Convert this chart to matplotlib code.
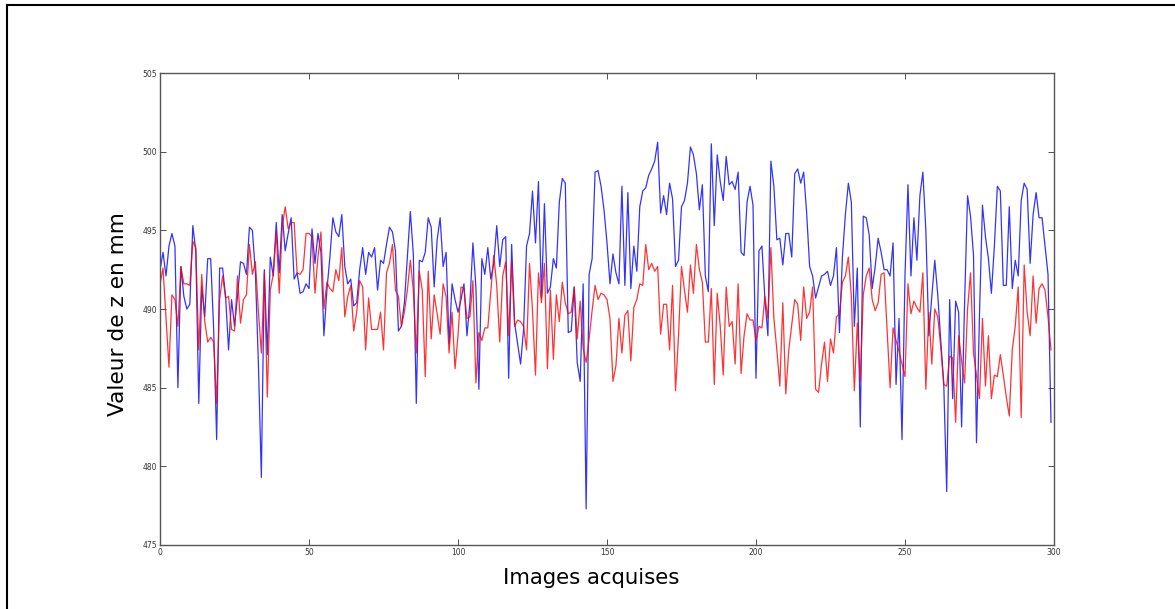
import matplotlib
matplotlib.use("Agg")
import matplotlib.pyplot as plt
from matplotlib.lines import Line2D
import numpy as np

# z values (mm), images 0..299
z_bleu = np.array(
    # 0..50
    [492.5, 493.6, 492.1, 494.0, 494.8, 494.0, 485.0, 492.7, 490.8, 490.0,
     490.3, 495.3, 493.7, 484.0, 491.4, 489.5, 493.2, 493.2, 488.7, 481.7,
     492.6, 492.6, 490.8, 487.4, 490.6, 488.9, 490.8, 493.0, 492.9, 492.2,
     495.2, 495.0, 492.3, 486.6, 479.3, 492.5, 487.1, 493.3, 492.1, 495.5,
     492.3, 496.0, 493.7, 494.8, 495.8, 491.9, 492.3, 491.0, 491.1, 491.6,
     491.3]
    # 51..100
    + [495.1, 492.9, 494.8, 493.6, 488.3, 491.2, 493.3, 495.8, 494.9, 494.6,
       496.0, 492.7, 491.6, 491.9, 490.2, 490.4, 492.5, 493.9, 492.2, 493.6,
       493.3, 493.9, 491.2, 493.1, 492.9, 494.1, 495.2, 494.9, 493.7, 488.6,
       488.9, 490.4, 493.3, 496.2, 493.5, 484.0, 493.1, 493.0, 493.6, 495.8,
       495.2, 491.4, 494.4, 495.8, 492.7, 493.6, 487.8, 491.6, 490.6, 489.8]
    # 101..150
    + [490.6, 491.6, 488.3, 490.4, 494.2, 491.4, 484.9, 493.2, 492.2, 493.9,
       491.9, 492.9, 495.3, 492.7, 494.4, 494.6, 485.6, 494.1, 489.1, 487.8,
       486.5, 488.7, 494.0, 494.8, 497.5, 494.2, 498.1, 490.7, 496.7, 491.0,
       491.4, 493.2, 492.6, 496.8, 498.3, 498.0, 488.5, 488.6, 491.4, 486.6,
       485.4, 491.6, 477.3, 492.2, 493.2, 498.7, 498.8, 497.8, 496.3, 494.2]
    # 151..199
    + [491.6, 493.5, 492.3, 491.6, 497.8, 491.5, 497.4, 491.3, 494.0, 492.4,
       496.5, 497.5, 497.7, 498.5, 498.9, 499.4, 500.6, 496.1, 497.2, 496.0,
       498.0, 497.0, 492.7, 493.1, 496.5, 496.9, 498.0, 500.3, 499.8, 498.6,
       496.3, 497.9, 492.1, 491.1, 500.5, 495.3, 499.8, 498.1, 496.9, 499.7,
       497.9, 498.1, 497.6, 498.7, 493.6, 493.4, 496.8, 497.8, 496.6]
    # 200..247
    + [485.6, 493.7, 494.0, 490.6, 488.3, 499.4, 497.8, 494.4, 494.5, 492.8,
       494.8, 494.8, 493.3, 498.6, 498.9, 498.0, 498.7, 496.1, 492.7, 492.1,
       490.7, 491.4, 492.1, 492.2, 492.4, 491.5, 492.1, 493.9, 488.5, 493.3,
       496.0, 498.0, 496.8, 488.9, 492.6, 482.5, 495.9, 495.8, 494.7, 491.3,
       492.7, 494.5, 493.6, 492.5, 492.5, 492.1, 494.2, 485.2]
    # 248..299
    + [489.4, 481.7, 492.1, 497.9, 492.1, 495.8, 493.1, 497.2, 498.7, 495.0,
       488.3, 490.8, 493.1, 490.9, 488.0, 485.3, 478.4, 490.6, 484.3, 490.5,
       489.8, 482.5, 490.4, 497.2, 495.9, 493.4, 481.5, 489.6, 496.6, 494.6,
       493.2, 491.0, 494.0, 497.8, 497.5, 491.5, 491.5, 496.5, 491.3, 493.1,
       492.1, 496.9, 498.0, 497.6, 492.9, 496.0, 497.4, 495.8, 495.8, 494.0,
       492.2, 482.8]
)

z_rouge = np.array(
    # 0..50
    [491.6, 492.6, 489.5, 486.3, 490.9, 490.6, 488.9, 492.7, 491.6, 491.6,
     491.5, 494.3, 493.9, 487.4, 492.2, 489.2, 487.9, 488.2, 487.9, 484.0,
     490.6, 492.1, 490.7, 490.8, 488.7, 488.6, 492.1, 489.1, 490.6, 490.9,
     494.1, 492.2, 493.0, 489.9, 487.2, 492.3, 484.4, 491.2, 492.2, 494.9,
     491.0, 495.2, 496.5, 495.1, 495.5, 495.5, 492.3, 492.2, 492.5, 494.8,
     494.8]
    # 51..100
    + [494.6, 491.0, 493.3, 494.9, 490.0, 491.7, 491.3, 491.1, 492.5, 491.8,
       493.9, 489.5, 490.8, 491.5, 488.6, 489.8, 491.8, 491.4, 487.4, 490.7,
       488.7, 488.7, 488.7, 489.8, 487.4, 492.3, 492.9, 494.1, 491.2, 490.8,
       488.9, 489.8, 491.2, 493.1, 491.2, 487.2, 492.4, 491.2, 485.7, 492.4,
       488.1, 490.9, 489.7, 488.4, 491.6, 490.8, 487.2, 489.8, 486.2, 488.3]
    # 101..150
    + [491.4, 491.3, 489.4, 489.5, 491.8, 485.3, 488.5, 488.0, 488.8, 488.8,
       491.1, 493.4, 491.5, 487.9, 492.1, 493.0, 488.3, 493.0, 488.9, 489.3,
       489.2, 488.9, 487.4, 492.9, 489.9, 485.8, 492.3, 490.4, 492.9, 486.2,
       491.2, 486.8, 490.9, 489.2, 491.7, 490.4, 489.7, 489.8, 491.4, 488.1,
       490.5, 487.5, 486.6, 488.1, 489.9, 491.5, 490.6, 491.0, 490.9, 490.6]
    # 151..199
    + [489.4, 485.4, 486.4, 489.4, 487.2, 489.6, 489.9, 486.7, 490.1, 490.6,
       491.6, 491.5, 494.1, 492.5, 492.9, 492.4, 492.7, 488.4, 490.3, 490.3,
       487.4, 491.5, 484.8, 488.3, 492.7, 491.2, 489.8, 492.8, 491.0, 494.1,
       492.5, 491.7, 487.9, 487.9, 491.3, 485.2, 491.0, 488.9, 485.8, 491.4,
       488.9, 489.2, 486.5, 491.6, 485.9, 488.3, 489.7, 489.3, 489.3]
    # 200..247
    + [488.0, 488.9, 488.8, 490.8, 489.4, 493.9, 489.4, 487.4, 485.1, 490.4,
       484.6, 487.4, 489.0, 490.6, 490.3, 488.0, 491.4, 489.4, 489.8, 491.4,
       484.9, 484.7, 486.5, 487.9, 485.4, 488.1, 487.2, 489.5, 489.7, 491.7,
       492.1, 493.3, 490.8, 484.8, 489.1, 485.4, 490.9, 492.1, 492.6, 490.6,
       489.9, 490.4, 492.2, 492.3, 488.7, 485.0, 488.8, 488.0]
    # 248..299
    + [487.3, 486.5, 485.7, 491.6, 489.7, 490.5, 490.1, 489.8, 492.3, 484.9,
       489.8, 486.5, 490.0, 489.5, 487.6, 485.2, 485.1, 487.0, 486.9, 482.8,
       488.3, 486.7, 485.3, 490.0, 492.3, 487.2, 485.8, 484.3, 489.4, 485.1,
       488.3, 484.3, 485.8, 485.7, 487.1, 485.8, 484.4, 483.2, 487.4, 488.9,
       491.4, 483.1, 492.8, 489.8, 488.3, 492.1, 489.1, 491.3, 491.6, 491.2,
       489.5, 487.4]
)

images = np.arange(len(z_bleu))

fig = plt.figure(figsize=(11.75, 6.09), dpi=100)
ax = fig.add_axes([0.1362, 0.1051, 0.7608, 0.7750])

ax.plot(images, z_bleu, color="b", lw=0.9, alpha=0.8)
ax.plot(np.arange(len(z_rouge)), z_rouge, color="r", lw=0.9, alpha=0.8)

ax.set_xlim(0, 300)
ax.set_ylim(475, 505)
ax.set_xticks([0, 50, 100, 150, 200, 250, 300])
ax.set_yticks([475, 480, 485, 490, 495, 500, 505])
ax.tick_params(direction="in", top=True, right=True, length=4, width=0.6,
               labelsize=5.5, pad=2, colors="#333333")
for s in ax.spines.values():
    s.set_color("#555555")
    s.set_linewidth(1.0)

ax.set_xlabel("Images acquises", fontsize=15.3)
ax.xaxis.set_label_coords(0.482, -0.048)
ax.set_ylabel("Valeur de z en mm", fontsize=15.6)
ax.yaxis.set_label_coords(-0.036, 0.49)

# black frame on top and left edge of the screenshot
fig.add_artist(Line2D([0.006, 1.0], [0.991, 0.991], color="black", lw=1.5,
                      transform=fig.transFigure))
fig.add_artist(Line2D([0.006, 0.006], [0.0, 0.991], color="black", lw=1.5,
                      transform=fig.transFigure))

fig.savefig("out.png", dpi=100)
